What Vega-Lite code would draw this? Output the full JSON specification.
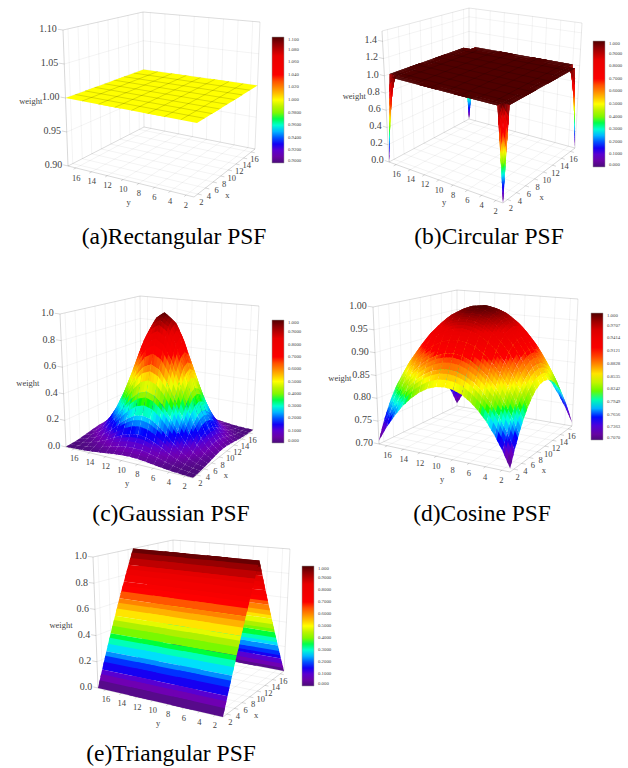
{"$schema":"https://vega.github.io/schema/vega-lite/v6.json","width":628,"height":768,"padding":0,"autosize":{"type":"none"},"background":"white","config":{"view":{"stroke":null}},
"params":[{"name":"cam","value":{"a":{"X":[194,255,68,144,200,260,63,143],"Y":[197,149,166,127,49,22,30,12],"z":[0.9,1.1],"sx":16,"sy":16,"cap":[174,237]},"b":{"X":[503,575,389,469,506,582,382,469],"Y":[203,148,162,119,58,23,31,8],"z":[0,1.52],"g":[1,1.1,1.25,1.5,2,16,16.5,16.75,16.9,17],"cap":[489,237]},"c":{"X":[193,253,66,141,199,259,60,140],"Y":[478,430,447,408,333,306,314,296],"z":[0,1],"sx":1,"sy":1,"cap":[171,514]},"d":{"X":[510,572,379,457,516,578,373,457],"Y":[472,426,444,406,327,299,307,290],"z":[0.7,1],"sx":1,"sy":1,"cap":[482,514]},"e":{"X":[223,284,98,174,229,290,93,173],"Y":[717,671,688,650,572,549,557,540],"z":[0,1],"sx":1,"sy":16,"cap":[171,754]}}}],
"data":{"values":[
{"k":"g","x":2,"y":1,"t":0,"x2":2,"y2":17,"t2":0},{"k":"g","x":4,"y":1,"t":0,"x2":4,"y2":17,"t2":0},{"k":"g","x":6,"y":1,"t":0,"x2":6,"y2":17,"t2":0},{"k":"g","x":8,"y":1,"t":0,"x2":8,"y2":17,"t2":0},{"k":"g","x":10,"y":1,"t":0,"x2":10,"y2":17,"t2":0},{"k":"g","x":12,"y":1,"t":0,"x2":12,"y2":17,"t2":0},{"k":"g","x":14,"y":1,"t":0,"x2":14,"y2":17,"t2":0},{"k":"g","x":16,"y":1,"t":0,"x2":16,"y2":17,"t2":0},
{"k":"g","x":1,"y":2,"t":0,"x2":17,"y2":2,"t2":0},{"k":"g","x":1,"y":4,"t":0,"x2":17,"y2":4,"t2":0},{"k":"g","x":1,"y":6,"t":0,"x2":17,"y2":6,"t2":0},{"k":"g","x":1,"y":8,"t":0,"x2":17,"y2":8,"t2":0},{"k":"g","x":1,"y":10,"t":0,"x2":17,"y2":10,"t2":0},{"k":"g","x":1,"y":12,"t":0,"x2":17,"y2":12,"t2":0},{"k":"g","x":1,"y":14,"t":0,"x2":17,"y2":14,"t2":0},{"k":"g","x":1,"y":16,"t":0,"x2":17,"y2":16,"t2":0},
{"k":"g","x":2,"y":17,"t":0,"x2":2,"y2":17,"t2":1},{"k":"g","x":4,"y":17,"t":0,"x2":4,"y2":17,"t2":1},{"k":"g","x":6,"y":17,"t":0,"x2":6,"y2":17,"t2":1},{"k":"g","x":8,"y":17,"t":0,"x2":8,"y2":17,"t2":1},{"k":"g","x":10,"y":17,"t":0,"x2":10,"y2":17,"t2":1},{"k":"g","x":12,"y":17,"t":0,"x2":12,"y2":17,"t2":1},{"k":"g","x":14,"y":17,"t":0,"x2":14,"y2":17,"t2":1},{"k":"g","x":16,"y":17,"t":0,"x2":16,"y2":17,"t2":1},
{"k":"g","x":17,"y":2,"t":0,"x2":17,"y2":2,"t2":1},{"k":"g","x":17,"y":4,"t":0,"x2":17,"y2":4,"t2":1},{"k":"g","x":17,"y":6,"t":0,"x2":17,"y2":6,"t2":1},{"k":"g","x":17,"y":8,"t":0,"x2":17,"y2":8,"t2":1},{"k":"g","x":17,"y":10,"t":0,"x2":17,"y2":10,"t2":1},{"k":"g","x":17,"y":12,"t":0,"x2":17,"y2":12,"t2":1},{"k":"g","x":17,"y":14,"t":0,"x2":17,"y2":14,"t2":1},{"k":"g","x":17,"y":16,"t":0,"x2":17,"y2":16,"t2":1},
{"k":"b","x":1,"y":17,"t":0,"x2":17,"y2":17,"t2":0},{"k":"b","x":17,"y":17,"t":0,"x2":17,"y2":1,"t2":0},{"k":"b","x":17,"y":17,"t":0,"x2":17,"y2":17,"t2":1},{"k":"b","x":17,"y":1,"t":0,"x2":17,"y2":1,"t2":1},{"k":"b","x":1,"y":17,"t":1,"x2":17,"y2":17,"t2":1},{"k":"b","x":17,"y":17,"t":1,"x2":17,"y2":1,"t2":1},
{"k":"a","x":1,"y":17,"t":0,"x2":1,"y2":1,"t2":0},{"k":"a","x":1,"y":1,"t":0,"x2":17,"y2":1,"t2":0},{"k":"a","x":1,"y":17,"t":0,"x2":1,"y2":17,"t2":1},
{"k":"a","x":1,"y":2,"t":0,"x2":0.5,"y2":2,"t2":0},{"k":"a","x":1,"y":4,"t":0,"x2":0.5,"y2":4,"t2":0},{"k":"a","x":1,"y":6,"t":0,"x2":0.5,"y2":6,"t2":0},{"k":"a","x":1,"y":8,"t":0,"x2":0.5,"y2":8,"t2":0},{"k":"a","x":1,"y":10,"t":0,"x2":0.5,"y2":10,"t2":0},{"k":"a","x":1,"y":12,"t":0,"x2":0.5,"y2":12,"t2":0},{"k":"a","x":1,"y":14,"t":0,"x2":0.5,"y2":14,"t2":0},{"k":"a","x":1,"y":16,"t":0,"x2":0.5,"y2":16,"t2":0},
{"k":"a","x":2,"y":1,"t":0,"x2":2,"y2":0.5,"t2":0},{"k":"a","x":4,"y":1,"t":0,"x2":4,"y2":0.5,"t2":0},{"k":"a","x":6,"y":1,"t":0,"x2":6,"y2":0.5,"t2":0},{"k":"a","x":8,"y":1,"t":0,"x2":8,"y2":0.5,"t2":0},{"k":"a","x":10,"y":1,"t":0,"x2":10,"y2":0.5,"t2":0},{"k":"a","x":12,"y":1,"t":0,"x2":12,"y2":0.5,"t2":0},{"k":"a","x":14,"y":1,"t":0,"x2":14,"y2":0.5,"t2":0},{"k":"a","x":16,"y":1,"t":0,"x2":16,"y2":0.5,"t2":0},
{"k":"m","x":3,"y":1,"x2":3,"y2":17,"w":1},{"k":"m","x":5,"y":1,"x2":5,"y2":17,"w":1},{"k":"m","x":7,"y":1,"x2":7,"y2":17,"w":1},{"k":"m","x":9,"y":1,"x2":9,"y2":17,"w":1},{"k":"m","x":11,"y":1,"x2":11,"y2":17,"w":1},{"k":"m","x":13,"y":1,"x2":13,"y2":17,"w":1},{"k":"m","x":15,"y":1,"x2":15,"y2":17,"w":1},{"k":"m","x":1,"y":3,"x2":17,"y2":3,"w":1},{"k":"m","x":1,"y":5,"x2":17,"y2":5,"w":1},{"k":"m","x":1,"y":7,"x2":17,"y2":7,"w":1},{"k":"m","x":1,"y":9,"x2":17,"y2":9,"w":1},{"k":"m","x":1,"y":11,"x2":17,"y2":11,"w":1},{"k":"m","x":1,"y":13,"x2":17,"y2":13,"w":1},{"k":"m","x":1,"y":15,"x2":17,"y2":15,"w":1},
{"k":"l","s":"2","x":2,"y":0.5,"t":-0.05},{"k":"l","s":"4","x":4,"y":0.5,"t":-0.05},{"k":"l","s":"6","x":6,"y":0.5,"t":-0.05},{"k":"l","s":"8","x":8,"y":0.5,"t":-0.05},{"k":"l","s":"10","x":10,"y":0.5,"t":-0.05},{"k":"l","s":"12","x":12,"y":0.5,"t":-0.05},{"k":"l","s":"14","x":14,"y":0.5,"t":-0.05},{"k":"l","s":"16","x":16,"y":0.5,"t":-0.05},
{"k":"l","s":"2","x":1,"y":2,"t":-0.07},{"k":"l","s":"4","x":1,"y":4,"t":-0.07},{"k":"l","s":"6","x":1,"y":6,"t":-0.07},{"k":"l","s":"8","x":1,"y":8,"t":-0.07},{"k":"l","s":"10","x":1,"y":10,"t":-0.07},{"k":"l","s":"12","x":1,"y":12,"t":-0.07},{"k":"l","s":"14","x":1,"y":14,"t":-0.07},{"k":"l","s":"16","x":1,"y":16,"t":-0.07},
{"k":"l","s":"x","x":9,"y":0.5,"t":-0.15},{"k":"l","s":"y","x":1,"y":9.3,"t":-0.15},{"k":"l","s":"weight","x":1,"y":21.3,"t":0.43},
{"p":"a","k":"cap","s":"(a)Rectangular PSF"},{"p":"b","k":"cap","s":"(b)Circular PSF"},{"p":"c","k":"cap","s":"(c)Gaussian PSF"},{"p":"d","k":"cap","s":"(d)Cosine PSF"},{"p":"e","k":"cap","s":"(e)Triangular PSF"},
{"p":"a","k":"z","w":0.9,"s":"0.90"},{"p":"a","k":"z","w":0.95,"s":"0.95"},{"p":"a","k":"z","w":1,"s":"1.00"},{"p":"a","k":"z","w":1.05,"s":"1.05"},{"p":"a","k":"z","w":1.1,"s":"1.10"},
{"p":"b","k":"z","w":0,"s":"0.0"},{"p":"b","k":"z","w":0.2,"s":"0.2"},{"p":"b","k":"z","w":0.4,"s":"0.4"},{"p":"b","k":"z","w":0.6,"s":"0.6"},{"p":"b","k":"z","w":0.8,"s":"0.8"},{"p":"b","k":"z","w":1,"s":"1.0"},{"p":"b","k":"z","w":1.2,"s":"1.2"},{"p":"b","k":"z","w":1.4,"s":"1.4"},
{"p":"c","k":"z","w":0,"s":"0.0"},{"p":"c","k":"z","w":0.2,"s":"0.2"},{"p":"c","k":"z","w":0.4,"s":"0.4"},{"p":"c","k":"z","w":0.6,"s":"0.6"},{"p":"c","k":"z","w":0.8,"s":"0.8"},{"p":"c","k":"z","w":1,"s":"1.0"},
{"p":"d","k":"z","w":0.7,"s":"0.70"},{"p":"d","k":"z","w":0.75,"s":"0.75"},{"p":"d","k":"z","w":0.8,"s":"0.80"},{"p":"d","k":"z","w":0.85,"s":"0.85"},{"p":"d","k":"z","w":0.9,"s":"0.90"},{"p":"d","k":"z","w":0.95,"s":"0.95"},{"p":"d","k":"z","w":1,"s":"1.00"},
{"p":"e","k":"z","w":0,"s":"0.0"},{"p":"e","k":"z","w":0.2,"s":"0.2"},{"p":"e","k":"z","w":0.4,"s":"0.4"},{"p":"e","k":"z","w":0.6,"s":"0.6"},{"p":"e","k":"z","w":0.8,"s":"0.8"},{"p":"e","k":"z","w":1,"s":"1.0"},
{"p":"a","x":17,"y":17,"w":1},{"p":"a","x":17,"y":1,"w":1},{"p":"a","x":1,"y":17,"w":1},{"p":"a","x":1,"y":1,"w":1},
{"p":"b","x":17,"y":17,"w":0},{"p":"b","x":17,"y":16.9,"w":0.1},{"p":"b","x":17,"y":16.75,"w":0.25},{"p":"b","x":17,"y":16.5,"w":0.5},{"p":"b","x":17,"y":16,"w":1},{"p":"b","x":17,"y":2,"w":1},{"p":"b","x":17,"y":1.5,"w":0.5},{"p":"b","x":17,"y":1.25,"w":0.25},{"p":"b","x":17,"y":1.1,"w":0.1},{"p":"b","x":17,"y":1,"w":0},
{"p":"b","x":16.9,"y":17,"w":0.1},{"p":"b","x":16.9,"y":16.9,"w":0.19},{"p":"b","x":16.9,"y":16.75,"w":0.325},{"p":"b","x":16.9,"y":16.5,"w":0.55},{"p":"b","x":16.9,"y":16,"w":1},{"p":"b","x":16.9,"y":2,"w":1},{"p":"b","x":16.9,"y":1.5,"w":0.55},{"p":"b","x":16.9,"y":1.25,"w":0.325},{"p":"b","x":16.9,"y":1.1,"w":0.19},{"p":"b","x":16.9,"y":1,"w":0.1},
{"p":"b","x":16.75,"y":17,"w":0.25},{"p":"b","x":16.75,"y":16.9,"w":0.325},{"p":"b","x":16.75,"y":16.75,"w":0.44},{"p":"b","x":16.75,"y":16.5,"w":0.625},{"p":"b","x":16.75,"y":16,"w":1},{"p":"b","x":16.75,"y":2,"w":1},{"p":"b","x":16.75,"y":1.5,"w":0.625},{"p":"b","x":16.75,"y":1.25,"w":0.44},{"p":"b","x":16.75,"y":1.1,"w":0.325},{"p":"b","x":16.75,"y":1,"w":0.25},
{"p":"b","x":16.5,"y":17,"w":0.5},{"p":"b","x":16.5,"y":16.9,"w":0.55},{"p":"b","x":16.5,"y":16.75,"w":0.625},{"p":"b","x":16.5,"y":16.5,"w":0.75},{"p":"b","x":16.5,"y":16,"w":1},{"p":"b","x":16.5,"y":2,"w":1},{"p":"b","x":16.5,"y":1.5,"w":0.75},{"p":"b","x":16.5,"y":1.25,"w":0.625},{"p":"b","x":16.5,"y":1.1,"w":0.55},{"p":"b","x":16.5,"y":1,"w":0.5},
{"p":"b","x":16,"y":17,"w":1},{"p":"b","x":16,"y":16.9,"w":1},{"p":"b","x":16,"y":16.75,"w":1},{"p":"b","x":16,"y":16.5,"w":1},{"p":"b","x":16,"y":16,"w":1},{"p":"b","x":16,"y":2,"w":1},{"p":"b","x":16,"y":1.5,"w":1},{"p":"b","x":16,"y":1.25,"w":1},{"p":"b","x":16,"y":1.1,"w":1},{"p":"b","x":16,"y":1,"w":1},
{"p":"b","x":2,"y":17,"w":1},{"p":"b","x":2,"y":16.9,"w":1},{"p":"b","x":2,"y":16.75,"w":1},{"p":"b","x":2,"y":16.5,"w":1},{"p":"b","x":2,"y":16,"w":1},{"p":"b","x":2,"y":2,"w":1},{"p":"b","x":2,"y":1.5,"w":1},{"p":"b","x":2,"y":1.25,"w":1},{"p":"b","x":2,"y":1.1,"w":1},{"p":"b","x":2,"y":1,"w":1},
{"p":"b","x":1.5,"y":17,"w":0.5},{"p":"b","x":1.5,"y":16.9,"w":0.55},{"p":"b","x":1.5,"y":16.75,"w":0.625},{"p":"b","x":1.5,"y":16.5,"w":0.75},{"p":"b","x":1.5,"y":16,"w":1},{"p":"b","x":1.5,"y":2,"w":1},{"p":"b","x":1.5,"y":1.5,"w":0.75},{"p":"b","x":1.5,"y":1.25,"w":0.625},{"p":"b","x":1.5,"y":1.1,"w":0.55},{"p":"b","x":1.5,"y":1,"w":0.5},
{"p":"b","x":1.25,"y":17,"w":0.25},{"p":"b","x":1.25,"y":16.9,"w":0.325},{"p":"b","x":1.25,"y":16.75,"w":0.44},{"p":"b","x":1.25,"y":16.5,"w":0.625},{"p":"b","x":1.25,"y":16,"w":1},{"p":"b","x":1.25,"y":2,"w":1},{"p":"b","x":1.25,"y":1.5,"w":0.625},{"p":"b","x":1.25,"y":1.25,"w":0.44},{"p":"b","x":1.25,"y":1.1,"w":0.325},{"p":"b","x":1.25,"y":1,"w":0.25},
{"p":"b","x":1.1,"y":17,"w":0.1},{"p":"b","x":1.1,"y":16.9,"w":0.19},{"p":"b","x":1.1,"y":16.75,"w":0.325},{"p":"b","x":1.1,"y":16.5,"w":0.55},{"p":"b","x":1.1,"y":16,"w":1},{"p":"b","x":1.1,"y":2,"w":1},{"p":"b","x":1.1,"y":1.5,"w":0.55},{"p":"b","x":1.1,"y":1.25,"w":0.325},{"p":"b","x":1.1,"y":1.1,"w":0.19},{"p":"b","x":1.1,"y":1,"w":0.1},
{"p":"b","x":1,"y":17,"w":0},{"p":"b","x":1,"y":16.9,"w":0.1},{"p":"b","x":1,"y":16.75,"w":0.25},{"p":"b","x":1,"y":16.5,"w":0.5},{"p":"b","x":1,"y":16,"w":1},{"p":"b","x":1,"y":2,"w":1},{"p":"b","x":1,"y":1.5,"w":0.5},{"p":"b","x":1,"y":1.25,"w":0.25},{"p":"b","x":1,"y":1.1,"w":0.1},{"p":"b","x":1,"y":1,"w":0},
{"p":"c","x":17,"y":17,"w":0.002},{"p":"c","x":17,"y":16,"w":0.004},{"p":"c","x":17,"y":15,"w":0.007},{"p":"c","x":17,"y":14,"w":0.012},{"p":"c","x":17,"y":13,"w":0.018},{"p":"c","x":17,"y":12,"w":0.026},{"p":"c","x":17,"y":11,"w":0.033},{"p":"c","x":17,"y":10,"w":0.039},{"p":"c","x":17,"y":9,"w":0.041},{"p":"c","x":17,"y":8,"w":0.039},{"p":"c","x":17,"y":7,"w":0.033},{"p":"c","x":17,"y":6,"w":0.026},{"p":"c","x":17,"y":5,"w":0.018},{"p":"c","x":17,"y":4,"w":0.012},{"p":"c","x":17,"y":3,"w":0.007},{"p":"c","x":17,"y":2,"w":0.004},{"p":"c","x":17,"y":1,"w":0.002},
{"p":"c","x":16,"y":17,"w":0.004},{"p":"c","x":16,"y":16,"w":0.007},{"p":"c","x":16,"y":15,"w":0.014},{"p":"c","x":16,"y":14,"w":0.025},{"p":"c","x":16,"y":13,"w":0.039},{"p":"c","x":16,"y":12,"w":0.055},{"p":"c","x":16,"y":11,"w":0.071},{"p":"c","x":16,"y":10,"w":0.082},{"p":"c","x":16,"y":9,"w":0.086},{"p":"c","x":16,"y":8,"w":0.082},{"p":"c","x":16,"y":7,"w":0.071},{"p":"c","x":16,"y":6,"w":0.055},{"p":"c","x":16,"y":5,"w":0.039},{"p":"c","x":16,"y":4,"w":0.025},{"p":"c","x":16,"y":3,"w":0.014},{"p":"c","x":16,"y":2,"w":0.007},{"p":"c","x":16,"y":1,"w":0.004},
{"p":"c","x":15,"y":17,"w":0.007},{"p":"c","x":15,"y":16,"w":0.014},{"p":"c","x":15,"y":15,"w":0.027},{"p":"c","x":15,"y":14,"w":0.047},{"p":"c","x":15,"y":13,"w":0.074},{"p":"c","x":15,"y":12,"w":0.105},{"p":"c","x":15,"y":11,"w":0.135},{"p":"c","x":15,"y":10,"w":0.157},{"p":"c","x":15,"y":9,"w":0.165},{"p":"c","x":15,"y":8,"w":0.157},{"p":"c","x":15,"y":7,"w":0.135},{"p":"c","x":15,"y":6,"w":0.105},{"p":"c","x":15,"y":5,"w":0.074},{"p":"c","x":15,"y":4,"w":0.047},{"p":"c","x":15,"y":3,"w":0.027},{"p":"c","x":15,"y":2,"w":0.014},{"p":"c","x":15,"y":1,"w":0.007},
{"p":"c","x":14,"y":17,"w":0.012},{"p":"c","x":14,"y":16,"w":0.025},{"p":"c","x":14,"y":15,"w":0.047},{"p":"c","x":14,"y":14,"w":0.082},{"p":"c","x":14,"y":13,"w":0.129},{"p":"c","x":14,"y":12,"w":0.183},{"p":"c","x":14,"y":11,"w":0.235},{"p":"c","x":14,"y":10,"w":0.273},{"p":"c","x":14,"y":9,"w":0.287},{"p":"c","x":14,"y":8,"w":0.273},{"p":"c","x":14,"y":7,"w":0.235},{"p":"c","x":14,"y":6,"w":0.183},{"p":"c","x":14,"y":5,"w":0.129},{"p":"c","x":14,"y":4,"w":0.082},{"p":"c","x":14,"y":3,"w":0.047},{"p":"c","x":14,"y":2,"w":0.025},{"p":"c","x":14,"y":1,"w":0.012},
{"p":"c","x":13,"y":17,"w":0.018},{"p":"c","x":13,"y":16,"w":0.039},{"p":"c","x":13,"y":15,"w":0.074},{"p":"c","x":13,"y":14,"w":0.129},{"p":"c","x":13,"y":13,"w":0.202},{"p":"c","x":13,"y":12,"w":0.287},{"p":"c","x":13,"y":11,"w":0.368},{"p":"c","x":13,"y":10,"w":0.427},{"p":"c","x":13,"y":9,"w":0.449},{"p":"c","x":13,"y":8,"w":0.427},{"p":"c","x":13,"y":7,"w":0.368},{"p":"c","x":13,"y":6,"w":0.287},{"p":"c","x":13,"y":5,"w":0.202},{"p":"c","x":13,"y":4,"w":0.129},{"p":"c","x":13,"y":3,"w":0.074},{"p":"c","x":13,"y":2,"w":0.039},{"p":"c","x":13,"y":1,"w":0.018},
{"p":"c","x":12,"y":17,"w":0.026},{"p":"c","x":12,"y":16,"w":0.055},{"p":"c","x":12,"y":15,"w":0.105},{"p":"c","x":12,"y":14,"w":0.183},{"p":"c","x":12,"y":13,"w":0.287},{"p":"c","x":12,"y":12,"w":0.407},{"p":"c","x":12,"y":11,"w":0.522},{"p":"c","x":12,"y":10,"w":0.607},{"p":"c","x":12,"y":9,"w":0.638},{"p":"c","x":12,"y":8,"w":0.607},{"p":"c","x":12,"y":7,"w":0.522},{"p":"c","x":12,"y":6,"w":0.407},{"p":"c","x":12,"y":5,"w":0.287},{"p":"c","x":12,"y":4,"w":0.183},{"p":"c","x":12,"y":3,"w":0.105},{"p":"c","x":12,"y":2,"w":0.055},{"p":"c","x":12,"y":1,"w":0.026},
{"p":"c","x":11,"y":17,"w":0.033},{"p":"c","x":11,"y":16,"w":0.071},{"p":"c","x":11,"y":15,"w":0.135},{"p":"c","x":11,"y":14,"w":0.235},{"p":"c","x":11,"y":13,"w":0.368},{"p":"c","x":11,"y":12,"w":0.522},{"p":"c","x":11,"y":11,"w":0.67},{"p":"c","x":11,"y":10,"w":0.779},{"p":"c","x":11,"y":9,"w":0.819},{"p":"c","x":11,"y":8,"w":0.779},{"p":"c","x":11,"y":7,"w":0.67},{"p":"c","x":11,"y":6,"w":0.522},{"p":"c","x":11,"y":5,"w":0.368},{"p":"c","x":11,"y":4,"w":0.235},{"p":"c","x":11,"y":3,"w":0.135},{"p":"c","x":11,"y":2,"w":0.071},{"p":"c","x":11,"y":1,"w":0.033},
{"p":"c","x":10,"y":17,"w":0.039},{"p":"c","x":10,"y":16,"w":0.082},{"p":"c","x":10,"y":15,"w":0.157},{"p":"c","x":10,"y":14,"w":0.273},{"p":"c","x":10,"y":13,"w":0.427},{"p":"c","x":10,"y":12,"w":0.607},{"p":"c","x":10,"y":11,"w":0.779},{"p":"c","x":10,"y":10,"w":0.905},{"p":"c","x":10,"y":9,"w":0.951},{"p":"c","x":10,"y":8,"w":0.905},{"p":"c","x":10,"y":7,"w":0.779},{"p":"c","x":10,"y":6,"w":0.607},{"p":"c","x":10,"y":5,"w":0.427},{"p":"c","x":10,"y":4,"w":0.273},{"p":"c","x":10,"y":3,"w":0.157},{"p":"c","x":10,"y":2,"w":0.082},{"p":"c","x":10,"y":1,"w":0.039},
{"p":"c","x":9,"y":17,"w":0.041},{"p":"c","x":9,"y":16,"w":0.086},{"p":"c","x":9,"y":15,"w":0.165},{"p":"c","x":9,"y":14,"w":0.287},{"p":"c","x":9,"y":13,"w":0.449},{"p":"c","x":9,"y":12,"w":0.638},{"p":"c","x":9,"y":11,"w":0.819},{"p":"c","x":9,"y":10,"w":0.951},{"p":"c","x":9,"y":9,"w":1},{"p":"c","x":9,"y":8,"w":0.951},{"p":"c","x":9,"y":7,"w":0.819},{"p":"c","x":9,"y":6,"w":0.638},{"p":"c","x":9,"y":5,"w":0.449},{"p":"c","x":9,"y":4,"w":0.287},{"p":"c","x":9,"y":3,"w":0.165},{"p":"c","x":9,"y":2,"w":0.086},{"p":"c","x":9,"y":1,"w":0.041},
{"p":"c","x":8,"y":17,"w":0.039},{"p":"c","x":8,"y":16,"w":0.082},{"p":"c","x":8,"y":15,"w":0.157},{"p":"c","x":8,"y":14,"w":0.273},{"p":"c","x":8,"y":13,"w":0.427},{"p":"c","x":8,"y":12,"w":0.607},{"p":"c","x":8,"y":11,"w":0.779},{"p":"c","x":8,"y":10,"w":0.905},{"p":"c","x":8,"y":9,"w":0.951},{"p":"c","x":8,"y":8,"w":0.905},{"p":"c","x":8,"y":7,"w":0.779},{"p":"c","x":8,"y":6,"w":0.607},{"p":"c","x":8,"y":5,"w":0.427},{"p":"c","x":8,"y":4,"w":0.273},{"p":"c","x":8,"y":3,"w":0.157},{"p":"c","x":8,"y":2,"w":0.082},{"p":"c","x":8,"y":1,"w":0.039},
{"p":"c","x":7,"y":17,"w":0.033},{"p":"c","x":7,"y":16,"w":0.071},{"p":"c","x":7,"y":15,"w":0.135},{"p":"c","x":7,"y":14,"w":0.235},{"p":"c","x":7,"y":13,"w":0.368},{"p":"c","x":7,"y":12,"w":0.522},{"p":"c","x":7,"y":11,"w":0.67},{"p":"c","x":7,"y":10,"w":0.779},{"p":"c","x":7,"y":9,"w":0.819},{"p":"c","x":7,"y":8,"w":0.779},{"p":"c","x":7,"y":7,"w":0.67},{"p":"c","x":7,"y":6,"w":0.522},{"p":"c","x":7,"y":5,"w":0.368},{"p":"c","x":7,"y":4,"w":0.235},{"p":"c","x":7,"y":3,"w":0.135},{"p":"c","x":7,"y":2,"w":0.071},{"p":"c","x":7,"y":1,"w":0.033},
{"p":"c","x":6,"y":17,"w":0.026},{"p":"c","x":6,"y":16,"w":0.055},{"p":"c","x":6,"y":15,"w":0.105},{"p":"c","x":6,"y":14,"w":0.183},{"p":"c","x":6,"y":13,"w":0.287},{"p":"c","x":6,"y":12,"w":0.407},{"p":"c","x":6,"y":11,"w":0.522},{"p":"c","x":6,"y":10,"w":0.607},{"p":"c","x":6,"y":9,"w":0.638},{"p":"c","x":6,"y":8,"w":0.607},{"p":"c","x":6,"y":7,"w":0.522},{"p":"c","x":6,"y":6,"w":0.407},{"p":"c","x":6,"y":5,"w":0.287},{"p":"c","x":6,"y":4,"w":0.183},{"p":"c","x":6,"y":3,"w":0.105},{"p":"c","x":6,"y":2,"w":0.055},{"p":"c","x":6,"y":1,"w":0.026},
{"p":"c","x":5,"y":17,"w":0.018},{"p":"c","x":5,"y":16,"w":0.039},{"p":"c","x":5,"y":15,"w":0.074},{"p":"c","x":5,"y":14,"w":0.129},{"p":"c","x":5,"y":13,"w":0.202},{"p":"c","x":5,"y":12,"w":0.287},{"p":"c","x":5,"y":11,"w":0.368},{"p":"c","x":5,"y":10,"w":0.427},{"p":"c","x":5,"y":9,"w":0.449},{"p":"c","x":5,"y":8,"w":0.427},{"p":"c","x":5,"y":7,"w":0.368},{"p":"c","x":5,"y":6,"w":0.287},{"p":"c","x":5,"y":5,"w":0.202},{"p":"c","x":5,"y":4,"w":0.129},{"p":"c","x":5,"y":3,"w":0.074},{"p":"c","x":5,"y":2,"w":0.039},{"p":"c","x":5,"y":1,"w":0.018},
{"p":"c","x":4,"y":17,"w":0.012},{"p":"c","x":4,"y":16,"w":0.025},{"p":"c","x":4,"y":15,"w":0.047},{"p":"c","x":4,"y":14,"w":0.082},{"p":"c","x":4,"y":13,"w":0.129},{"p":"c","x":4,"y":12,"w":0.183},{"p":"c","x":4,"y":11,"w":0.235},{"p":"c","x":4,"y":10,"w":0.273},{"p":"c","x":4,"y":9,"w":0.287},{"p":"c","x":4,"y":8,"w":0.273},{"p":"c","x":4,"y":7,"w":0.235},{"p":"c","x":4,"y":6,"w":0.183},{"p":"c","x":4,"y":5,"w":0.129},{"p":"c","x":4,"y":4,"w":0.082},{"p":"c","x":4,"y":3,"w":0.047},{"p":"c","x":4,"y":2,"w":0.025},{"p":"c","x":4,"y":1,"w":0.012},
{"p":"c","x":3,"y":17,"w":0.007},{"p":"c","x":3,"y":16,"w":0.014},{"p":"c","x":3,"y":15,"w":0.027},{"p":"c","x":3,"y":14,"w":0.047},{"p":"c","x":3,"y":13,"w":0.074},{"p":"c","x":3,"y":12,"w":0.105},{"p":"c","x":3,"y":11,"w":0.135},{"p":"c","x":3,"y":10,"w":0.157},{"p":"c","x":3,"y":9,"w":0.165},{"p":"c","x":3,"y":8,"w":0.157},{"p":"c","x":3,"y":7,"w":0.135},{"p":"c","x":3,"y":6,"w":0.105},{"p":"c","x":3,"y":5,"w":0.074},{"p":"c","x":3,"y":4,"w":0.047},{"p":"c","x":3,"y":3,"w":0.027},{"p":"c","x":3,"y":2,"w":0.014},{"p":"c","x":3,"y":1,"w":0.007},
{"p":"c","x":2,"y":17,"w":0.004},{"p":"c","x":2,"y":16,"w":0.007},{"p":"c","x":2,"y":15,"w":0.014},{"p":"c","x":2,"y":14,"w":0.025},{"p":"c","x":2,"y":13,"w":0.039},{"p":"c","x":2,"y":12,"w":0.055},{"p":"c","x":2,"y":11,"w":0.071},{"p":"c","x":2,"y":10,"w":0.082},{"p":"c","x":2,"y":9,"w":0.086},{"p":"c","x":2,"y":8,"w":0.082},{"p":"c","x":2,"y":7,"w":0.071},{"p":"c","x":2,"y":6,"w":0.055},{"p":"c","x":2,"y":5,"w":0.039},{"p":"c","x":2,"y":4,"w":0.025},{"p":"c","x":2,"y":3,"w":0.014},{"p":"c","x":2,"y":2,"w":0.007},{"p":"c","x":2,"y":1,"w":0.004},
{"p":"c","x":1,"y":17,"w":0.002},{"p":"c","x":1,"y":16,"w":0.004},{"p":"c","x":1,"y":15,"w":0.007},{"p":"c","x":1,"y":14,"w":0.012},{"p":"c","x":1,"y":13,"w":0.018},{"p":"c","x":1,"y":12,"w":0.026},{"p":"c","x":1,"y":11,"w":0.033},{"p":"c","x":1,"y":10,"w":0.039},{"p":"c","x":1,"y":9,"w":0.041},{"p":"c","x":1,"y":8,"w":0.039},{"p":"c","x":1,"y":7,"w":0.033},{"p":"c","x":1,"y":6,"w":0.026},{"p":"c","x":1,"y":5,"w":0.018},{"p":"c","x":1,"y":4,"w":0.012},{"p":"c","x":1,"y":3,"w":0.007},{"p":"c","x":1,"y":2,"w":0.004},{"p":"c","x":1,"y":1,"w":0.002},
{"p":"d","x":17,"y":17,"w":0.707},{"p":"d","x":17,"y":16,"w":0.74},{"p":"d","x":17,"y":15,"w":0.768},{"p":"d","x":17,"y":14,"w":0.793},{"p":"d","x":17,"y":13,"w":0.813},{"p":"d","x":17,"y":12,"w":0.829},{"p":"d","x":17,"y":11,"w":0.841},{"p":"d","x":17,"y":10,"w":0.848},{"p":"d","x":17,"y":9,"w":0.85},{"p":"d","x":17,"y":8,"w":0.848},{"p":"d","x":17,"y":7,"w":0.841},{"p":"d","x":17,"y":6,"w":0.829},{"p":"d","x":17,"y":5,"w":0.813},{"p":"d","x":17,"y":4,"w":0.793},{"p":"d","x":17,"y":3,"w":0.768},{"p":"d","x":17,"y":2,"w":0.74},{"p":"d","x":17,"y":1,"w":0.707},
{"p":"d","x":16,"y":17,"w":0.74},{"p":"d","x":16,"y":16,"w":0.773},{"p":"d","x":16,"y":15,"w":0.802},{"p":"d","x":16,"y":14,"w":0.827},{"p":"d","x":16,"y":13,"w":0.848},{"p":"d","x":16,"y":12,"w":0.864},{"p":"d","x":16,"y":11,"w":0.875},{"p":"d","x":16,"y":10,"w":0.882},{"p":"d","x":16,"y":9,"w":0.884},{"p":"d","x":16,"y":8,"w":0.882},{"p":"d","x":16,"y":7,"w":0.875},{"p":"d","x":16,"y":6,"w":0.864},{"p":"d","x":16,"y":5,"w":0.848},{"p":"d","x":16,"y":4,"w":0.827},{"p":"d","x":16,"y":3,"w":0.802},{"p":"d","x":16,"y":2,"w":0.773},{"p":"d","x":16,"y":1,"w":0.74},
{"p":"d","x":15,"y":17,"w":0.768},{"p":"d","x":15,"y":16,"w":0.802},{"p":"d","x":15,"y":15,"w":0.831},{"p":"d","x":15,"y":14,"w":0.857},{"p":"d","x":15,"y":13,"w":0.877},{"p":"d","x":15,"y":12,"w":0.893},{"p":"d","x":15,"y":11,"w":0.905},{"p":"d","x":15,"y":10,"w":0.912},{"p":"d","x":15,"y":9,"w":0.915},{"p":"d","x":15,"y":8,"w":0.912},{"p":"d","x":15,"y":7,"w":0.905},{"p":"d","x":15,"y":6,"w":0.893},{"p":"d","x":15,"y":5,"w":0.877},{"p":"d","x":15,"y":4,"w":0.857},{"p":"d","x":15,"y":3,"w":0.831},{"p":"d","x":15,"y":2,"w":0.802},{"p":"d","x":15,"y":1,"w":0.768},
{"p":"d","x":14,"y":17,"w":0.793},{"p":"d","x":14,"y":16,"w":0.827},{"p":"d","x":14,"y":15,"w":0.857},{"p":"d","x":14,"y":14,"w":0.882},{"p":"d","x":14,"y":13,"w":0.903},{"p":"d","x":14,"y":12,"w":0.919},{"p":"d","x":14,"y":11,"w":0.931},{"p":"d","x":14,"y":10,"w":0.938},{"p":"d","x":14,"y":9,"w":0.94},{"p":"d","x":14,"y":8,"w":0.938},{"p":"d","x":14,"y":7,"w":0.931},{"p":"d","x":14,"y":6,"w":0.919},{"p":"d","x":14,"y":5,"w":0.903},{"p":"d","x":14,"y":4,"w":0.882},{"p":"d","x":14,"y":3,"w":0.857},{"p":"d","x":14,"y":2,"w":0.827},{"p":"d","x":14,"y":1,"w":0.793},
{"p":"d","x":13,"y":17,"w":0.813},{"p":"d","x":13,"y":16,"w":0.848},{"p":"d","x":13,"y":15,"w":0.877},{"p":"d","x":13,"y":14,"w":0.903},{"p":"d","x":13,"y":13,"w":0.924},{"p":"d","x":13,"y":12,"w":0.94},{"p":"d","x":13,"y":11,"w":0.952},{"p":"d","x":13,"y":10,"w":0.959},{"p":"d","x":13,"y":9,"w":0.962},{"p":"d","x":13,"y":8,"w":0.959},{"p":"d","x":13,"y":7,"w":0.952},{"p":"d","x":13,"y":6,"w":0.94},{"p":"d","x":13,"y":5,"w":0.924},{"p":"d","x":13,"y":4,"w":0.903},{"p":"d","x":13,"y":3,"w":0.877},{"p":"d","x":13,"y":2,"w":0.848},{"p":"d","x":13,"y":1,"w":0.813},
{"p":"d","x":12,"y":17,"w":0.829},{"p":"d","x":12,"y":16,"w":0.864},{"p":"d","x":12,"y":15,"w":0.893},{"p":"d","x":12,"y":14,"w":0.919},{"p":"d","x":12,"y":13,"w":0.94},{"p":"d","x":12,"y":12,"w":0.957},{"p":"d","x":12,"y":11,"w":0.969},{"p":"d","x":12,"y":10,"w":0.976},{"p":"d","x":12,"y":9,"w":0.978},{"p":"d","x":12,"y":8,"w":0.976},{"p":"d","x":12,"y":7,"w":0.969},{"p":"d","x":12,"y":6,"w":0.957},{"p":"d","x":12,"y":5,"w":0.94},{"p":"d","x":12,"y":4,"w":0.919},{"p":"d","x":12,"y":3,"w":0.893},{"p":"d","x":12,"y":2,"w":0.864},{"p":"d","x":12,"y":1,"w":0.829},
{"p":"d","x":11,"y":17,"w":0.841},{"p":"d","x":11,"y":16,"w":0.875},{"p":"d","x":11,"y":15,"w":0.905},{"p":"d","x":11,"y":14,"w":0.931},{"p":"d","x":11,"y":13,"w":0.952},{"p":"d","x":11,"y":12,"w":0.969},{"p":"d","x":11,"y":11,"w":0.981},{"p":"d","x":11,"y":10,"w":0.988},{"p":"d","x":11,"y":9,"w":0.99},{"p":"d","x":11,"y":8,"w":0.988},{"p":"d","x":11,"y":7,"w":0.981},{"p":"d","x":11,"y":6,"w":0.969},{"p":"d","x":11,"y":5,"w":0.952},{"p":"d","x":11,"y":4,"w":0.931},{"p":"d","x":11,"y":3,"w":0.905},{"p":"d","x":11,"y":2,"w":0.875},{"p":"d","x":11,"y":1,"w":0.841},
{"p":"d","x":10,"y":17,"w":0.848},{"p":"d","x":10,"y":16,"w":0.882},{"p":"d","x":10,"y":15,"w":0.912},{"p":"d","x":10,"y":14,"w":0.938},{"p":"d","x":10,"y":13,"w":0.959},{"p":"d","x":10,"y":12,"w":0.976},{"p":"d","x":10,"y":11,"w":0.988},{"p":"d","x":10,"y":10,"w":0.995},{"p":"d","x":10,"y":9,"w":0.998},{"p":"d","x":10,"y":8,"w":0.995},{"p":"d","x":10,"y":7,"w":0.988},{"p":"d","x":10,"y":6,"w":0.976},{"p":"d","x":10,"y":5,"w":0.959},{"p":"d","x":10,"y":4,"w":0.938},{"p":"d","x":10,"y":3,"w":0.912},{"p":"d","x":10,"y":2,"w":0.882},{"p":"d","x":10,"y":1,"w":0.848},
{"p":"d","x":9,"y":17,"w":0.85},{"p":"d","x":9,"y":16,"w":0.884},{"p":"d","x":9,"y":15,"w":0.915},{"p":"d","x":9,"y":14,"w":0.94},{"p":"d","x":9,"y":13,"w":0.962},{"p":"d","x":9,"y":12,"w":0.978},{"p":"d","x":9,"y":11,"w":0.99},{"p":"d","x":9,"y":10,"w":0.998},{"p":"d","x":9,"y":9,"w":1},{"p":"d","x":9,"y":8,"w":0.998},{"p":"d","x":9,"y":7,"w":0.99},{"p":"d","x":9,"y":6,"w":0.978},{"p":"d","x":9,"y":5,"w":0.962},{"p":"d","x":9,"y":4,"w":0.94},{"p":"d","x":9,"y":3,"w":0.915},{"p":"d","x":9,"y":2,"w":0.884},{"p":"d","x":9,"y":1,"w":0.85},
{"p":"d","x":8,"y":17,"w":0.848},{"p":"d","x":8,"y":16,"w":0.882},{"p":"d","x":8,"y":15,"w":0.912},{"p":"d","x":8,"y":14,"w":0.938},{"p":"d","x":8,"y":13,"w":0.959},{"p":"d","x":8,"y":12,"w":0.976},{"p":"d","x":8,"y":11,"w":0.988},{"p":"d","x":8,"y":10,"w":0.995},{"p":"d","x":8,"y":9,"w":0.998},{"p":"d","x":8,"y":8,"w":0.995},{"p":"d","x":8,"y":7,"w":0.988},{"p":"d","x":8,"y":6,"w":0.976},{"p":"d","x":8,"y":5,"w":0.959},{"p":"d","x":8,"y":4,"w":0.938},{"p":"d","x":8,"y":3,"w":0.912},{"p":"d","x":8,"y":2,"w":0.882},{"p":"d","x":8,"y":1,"w":0.848},
{"p":"d","x":7,"y":17,"w":0.841},{"p":"d","x":7,"y":16,"w":0.875},{"p":"d","x":7,"y":15,"w":0.905},{"p":"d","x":7,"y":14,"w":0.931},{"p":"d","x":7,"y":13,"w":0.952},{"p":"d","x":7,"y":12,"w":0.969},{"p":"d","x":7,"y":11,"w":0.981},{"p":"d","x":7,"y":10,"w":0.988},{"p":"d","x":7,"y":9,"w":0.99},{"p":"d","x":7,"y":8,"w":0.988},{"p":"d","x":7,"y":7,"w":0.981},{"p":"d","x":7,"y":6,"w":0.969},{"p":"d","x":7,"y":5,"w":0.952},{"p":"d","x":7,"y":4,"w":0.931},{"p":"d","x":7,"y":3,"w":0.905},{"p":"d","x":7,"y":2,"w":0.875},{"p":"d","x":7,"y":1,"w":0.841},
{"p":"d","x":6,"y":17,"w":0.829},{"p":"d","x":6,"y":16,"w":0.864},{"p":"d","x":6,"y":15,"w":0.893},{"p":"d","x":6,"y":14,"w":0.919},{"p":"d","x":6,"y":13,"w":0.94},{"p":"d","x":6,"y":12,"w":0.957},{"p":"d","x":6,"y":11,"w":0.969},{"p":"d","x":6,"y":10,"w":0.976},{"p":"d","x":6,"y":9,"w":0.978},{"p":"d","x":6,"y":8,"w":0.976},{"p":"d","x":6,"y":7,"w":0.969},{"p":"d","x":6,"y":6,"w":0.957},{"p":"d","x":6,"y":5,"w":0.94},{"p":"d","x":6,"y":4,"w":0.919},{"p":"d","x":6,"y":3,"w":0.893},{"p":"d","x":6,"y":2,"w":0.864},{"p":"d","x":6,"y":1,"w":0.829},
{"p":"d","x":5,"y":17,"w":0.813},{"p":"d","x":5,"y":16,"w":0.848},{"p":"d","x":5,"y":15,"w":0.877},{"p":"d","x":5,"y":14,"w":0.903},{"p":"d","x":5,"y":13,"w":0.924},{"p":"d","x":5,"y":12,"w":0.94},{"p":"d","x":5,"y":11,"w":0.952},{"p":"d","x":5,"y":10,"w":0.959},{"p":"d","x":5,"y":9,"w":0.962},{"p":"d","x":5,"y":8,"w":0.959},{"p":"d","x":5,"y":7,"w":0.952},{"p":"d","x":5,"y":6,"w":0.94},{"p":"d","x":5,"y":5,"w":0.924},{"p":"d","x":5,"y":4,"w":0.903},{"p":"d","x":5,"y":3,"w":0.877},{"p":"d","x":5,"y":2,"w":0.848},{"p":"d","x":5,"y":1,"w":0.813},
{"p":"d","x":4,"y":17,"w":0.793},{"p":"d","x":4,"y":16,"w":0.827},{"p":"d","x":4,"y":15,"w":0.857},{"p":"d","x":4,"y":14,"w":0.882},{"p":"d","x":4,"y":13,"w":0.903},{"p":"d","x":4,"y":12,"w":0.919},{"p":"d","x":4,"y":11,"w":0.931},{"p":"d","x":4,"y":10,"w":0.938},{"p":"d","x":4,"y":9,"w":0.94},{"p":"d","x":4,"y":8,"w":0.938},{"p":"d","x":4,"y":7,"w":0.931},{"p":"d","x":4,"y":6,"w":0.919},{"p":"d","x":4,"y":5,"w":0.903},{"p":"d","x":4,"y":4,"w":0.882},{"p":"d","x":4,"y":3,"w":0.857},{"p":"d","x":4,"y":2,"w":0.827},{"p":"d","x":4,"y":1,"w":0.793},
{"p":"d","x":3,"y":17,"w":0.768},{"p":"d","x":3,"y":16,"w":0.802},{"p":"d","x":3,"y":15,"w":0.831},{"p":"d","x":3,"y":14,"w":0.857},{"p":"d","x":3,"y":13,"w":0.877},{"p":"d","x":3,"y":12,"w":0.893},{"p":"d","x":3,"y":11,"w":0.905},{"p":"d","x":3,"y":10,"w":0.912},{"p":"d","x":3,"y":9,"w":0.915},{"p":"d","x":3,"y":8,"w":0.912},{"p":"d","x":3,"y":7,"w":0.905},{"p":"d","x":3,"y":6,"w":0.893},{"p":"d","x":3,"y":5,"w":0.877},{"p":"d","x":3,"y":4,"w":0.857},{"p":"d","x":3,"y":3,"w":0.831},{"p":"d","x":3,"y":2,"w":0.802},{"p":"d","x":3,"y":1,"w":0.768},
{"p":"d","x":2,"y":17,"w":0.74},{"p":"d","x":2,"y":16,"w":0.773},{"p":"d","x":2,"y":15,"w":0.802},{"p":"d","x":2,"y":14,"w":0.827},{"p":"d","x":2,"y":13,"w":0.848},{"p":"d","x":2,"y":12,"w":0.864},{"p":"d","x":2,"y":11,"w":0.875},{"p":"d","x":2,"y":10,"w":0.882},{"p":"d","x":2,"y":9,"w":0.884},{"p":"d","x":2,"y":8,"w":0.882},{"p":"d","x":2,"y":7,"w":0.875},{"p":"d","x":2,"y":6,"w":0.864},{"p":"d","x":2,"y":5,"w":0.848},{"p":"d","x":2,"y":4,"w":0.827},{"p":"d","x":2,"y":3,"w":0.802},{"p":"d","x":2,"y":2,"w":0.773},{"p":"d","x":2,"y":1,"w":0.74},
{"p":"d","x":1,"y":17,"w":0.707},{"p":"d","x":1,"y":16,"w":0.74},{"p":"d","x":1,"y":15,"w":0.768},{"p":"d","x":1,"y":14,"w":0.793},{"p":"d","x":1,"y":13,"w":0.813},{"p":"d","x":1,"y":12,"w":0.829},{"p":"d","x":1,"y":11,"w":0.841},{"p":"d","x":1,"y":10,"w":0.848},{"p":"d","x":1,"y":9,"w":0.85},{"p":"d","x":1,"y":8,"w":0.848},{"p":"d","x":1,"y":7,"w":0.841},{"p":"d","x":1,"y":6,"w":0.829},{"p":"d","x":1,"y":5,"w":0.813},{"p":"d","x":1,"y":4,"w":0.793},{"p":"d","x":1,"y":3,"w":0.768},{"p":"d","x":1,"y":2,"w":0.74},{"p":"d","x":1,"y":1,"w":0.707},
{"p":"e","x":17,"y":17,"w":0},{"p":"e","x":17,"y":1,"w":0},{"p":"e","x":16,"y":17,"w":0.125},{"p":"e","x":16,"y":1,"w":0.125},{"p":"e","x":15,"y":17,"w":0.25},{"p":"e","x":15,"y":1,"w":0.25},{"p":"e","x":14,"y":17,"w":0.375},{"p":"e","x":14,"y":1,"w":0.375},{"p":"e","x":13,"y":17,"w":0.5},{"p":"e","x":13,"y":1,"w":0.5},{"p":"e","x":12,"y":17,"w":0.625},{"p":"e","x":12,"y":1,"w":0.625},{"p":"e","x":11,"y":17,"w":0.75},{"p":"e","x":11,"y":1,"w":0.75},{"p":"e","x":10,"y":17,"w":0.875},{"p":"e","x":10,"y":1,"w":0.875},{"p":"e","x":9,"y":17,"w":1},{"p":"e","x":9,"y":1,"w":1},{"p":"e","x":8,"y":17,"w":0.875},{"p":"e","x":8,"y":1,"w":0.875},{"p":"e","x":7,"y":17,"w":0.75},{"p":"e","x":7,"y":1,"w":0.75},{"p":"e","x":6,"y":17,"w":0.625},{"p":"e","x":6,"y":1,"w":0.625},{"p":"e","x":5,"y":17,"w":0.5},{"p":"e","x":5,"y":1,"w":0.5},{"p":"e","x":4,"y":17,"w":0.375},{"p":"e","x":4,"y":1,"w":0.375},{"p":"e","x":3,"y":17,"w":0.25},{"p":"e","x":3,"y":1,"w":0.25},{"p":"e","x":2,"y":17,"w":0.125},{"p":"e","x":2,"y":1,"w":0.125},{"p":"e","x":1,"y":17,"w":0},{"p":"e","x":1,"y":1,"w":0}
]},
"transform":[
{"calculate":"datum.p?[datum.p]:(datum.k=='m'?['a','b']:['a','b','c','d','e'])","as":"q"},{"flatten":["q"]},
{"calculate":"cam[datum.q]","as":"m"},
{"calculate":"!datum.k?[0,1,2,3]:(datum.k=='z'?[0,1,2]:[0])","as":"c"},{"flatten":["c"]},
{"calculate":"datum.k?0:(datum.m.g?indexof(datum.m.g,datum.x):(datum.x-1)/datum.m.sx)","as":"I"},
{"calculate":"datum.k?0:(datum.m.g?indexof(datum.m.g,datum.y):(datum.y-1)/datum.m.sy)","as":"J"},
{"calculate":"(datum.k||'s')+datum.q+(datum.I-(datum.c==1||datum.c==2?1:0))+'_'+(datum.J-(datum.c>=2?1:0))","as":"cell"},
{"calculate":"datum.c==0?datum.w:null","as":"w0"},{"calculate":"datum.c==1?datum.w:null","as":"w1"},{"calculate":"datum.c==2?datum.w:null","as":"w2"},{"calculate":"datum.c==3?datum.w:null","as":"w3"},
{"joinaggregate":[{"op":"count","as":"n"},{"op":"mean","field":"w0","as":"W0"},{"op":"mean","field":"w1","as":"W1"},{"op":"mean","field":"w2","as":"W2"},{"op":"mean","field":"w3","as":"W3"},{"op":"min","field":"x","as":"xl"},{"op":"max","field":"x","as":"xh"},{"op":"min","field":"y","as":"yl"},{"op":"max","field":"y","as":"yh"}],"groupby":["cell"]},
{"filter":"datum.k||(datum.n==4&&datum.c==2)"},
{"calculate":"datum.k?[0]:[8,7,6,5,4,3,2,1,0]","as":"e0"},{"flatten":["e0"]},
{"calculate":"datum.k?[0]:[0,1,2,3]","as":"e"},{"flatten":["e"]},
{"calculate":"clamp((floor(datum.e0/3)+(datum.e==1||datum.e==2?1.25:-0.25))/3,0,1)","as":"U"},
{"calculate":"clamp((datum.e0%3+(datum.e>=2?1.25:-0.25))/3,0,1)","as":"V"},
{"calculate":"(floor(datum.e0/3)+0.5)/3","as":"Uc"},{"calculate":"(datum.e0%3+0.5)/3","as":"Vc"},
{"calculate":"datum.k?null:(1-datum.Uc)*(1-datum.Vc)*datum.W0+datum.Uc*(1-datum.Vc)*datum.W1+datum.Uc*datum.Vc*datum.W2+(1-datum.Uc)*datum.Vc*datum.W3","as":"f"},
{"calculate":"datum.k?datum.w:(1-datum.U)*(1-datum.V)*datum.W0+datum.U*(1-datum.V)*datum.W1+datum.U*datum.V*datum.W2+(1-datum.U)*datum.V*datum.W3","as":"wv"},
{"calculate":"datum.k?datum.x:datum.xl+(datum.xh-datum.xl)*datum.U","as":"xv"},
{"calculate":"datum.k?datum.y:datum.yl+(datum.yh-datum.yl)*datum.V","as":"yv"},
{"calculate":"datum.cell+'/'+datum.e0","as":"pk"},
{"calculate":"datum.k=='z'?(datum.c==0?'a':'g'):datum.k","as":"o"},
{"calculate":"((datum.k=='z'?1:datum.xv)-1)/16+(datum.k=='z'&&datum.c==2?1:0)","as":"u"},
{"calculate":"((datum.k=='z'?17:datum.yv)-1)/16","as":"v"},
{"calculate":"((datum.k=='z'?[1,17,17][datum.c]:datum.x2)-1)/16","as":"u2"},
{"calculate":"((datum.k=='z'?[17.6,17,1][datum.c]:datum.y2)-1)/16","as":"v2"},
{"calculate":"isValid(datum.wv)?(datum.wv-datum.m.z[0])/(datum.m.z[1]-datum.m.z[0]):datum.t","as":"h"},
{"calculate":"datum.k=='z'||datum.k=='m'?datum.h:datum.t2","as":"h2"},
{"calculate":"(1-datum.u)*(1-datum.v)","as":"A"},{"calculate":"datum.u*(1-datum.v)","as":"B"},{"calculate":"(1-datum.u)*datum.v","as":"C"},{"calculate":"datum.u*datum.v","as":"D"},
{"calculate":"(1-datum.u2)*(1-datum.v2)","as":"A2"},{"calculate":"datum.u2*(1-datum.v2)","as":"B2"},{"calculate":"(1-datum.u2)*datum.v2","as":"C2"},{"calculate":"datum.u2*datum.v2","as":"D2"},
{"calculate":"datum.k=='cap'?datum.m.cap[0]:(1-datum.h)*(datum.A*datum.m.X[0]+datum.B*datum.m.X[1]+datum.C*datum.m.X[2]+datum.D*datum.m.X[3])+datum.h*(datum.A*datum.m.X[4]+datum.B*datum.m.X[5]+datum.C*datum.m.X[6]+datum.D*datum.m.X[7])","as":"px"},
{"calculate":"datum.k=='cap'?datum.m.cap[1]:(1-datum.h)*(datum.A*datum.m.Y[0]+datum.B*datum.m.Y[1]+datum.C*datum.m.Y[2]+datum.D*datum.m.Y[3])+datum.h*(datum.A*datum.m.Y[4]+datum.B*datum.m.Y[5]+datum.C*datum.m.Y[6]+datum.D*datum.m.Y[7])","as":"py"},
{"calculate":"(1-datum.h2)*(datum.A2*datum.m.X[0]+datum.B2*datum.m.X[1]+datum.C2*datum.m.X[2]+datum.D2*datum.m.X[3])+datum.h2*(datum.A2*datum.m.X[4]+datum.B2*datum.m.X[5]+datum.C2*datum.m.X[6]+datum.D2*datum.m.X[7])","as":"px2"},
{"calculate":"(1-datum.h2)*(datum.A2*datum.m.Y[0]+datum.B2*datum.m.Y[1]+datum.C2*datum.m.Y[2]+datum.D2*datum.m.Y[3])+datum.h2*(datum.A2*datum.m.Y[4]+datum.B2*datum.m.Y[5]+datum.C2*datum.m.Y[6]+datum.D2*datum.m.Y[7])","as":"py2"}
],
"encoding":{"x":{"field":"px","type":"quantitative","scale":{"domain":[0,628],"nice":false,"zero":false},"axis":null},"y":{"field":"py","type":"quantitative","scale":{"domain":[768,0],"nice":false,"zero":false},"axis":null}},
"resolve":{"scale":{"color":"independent"}},
"layer":[
{"transform":[{"filter":"indexof(['g','b','a'],datum.o)>=0"}],"mark":{"type":"rule","stroke":"#000","strokeWidth":0.7},"encoding":{"x2":{"field":"px2"},"y2":{"field":"py2"},"opacity":{"field":"o","type":"ordinal","legend":null,"scale":{"domain":["g","b","a","m"],"range":[0.07,0.3,0.7,0.08]}}}},
{"transform":[{"filter":"datum.q=='a'&&!datum.k"}],"mark":{"type":"line","filled":true},"encoding":{"color":{"field":"f","type":"quantitative","scale":{"domain":[0.9,0.912,0.928,0.936,0.948,0.958,0.972,0.988,1,1.018,1.036,1.07,1.086,1.1],"range":["#4a0c78","#7000b0","#1800f0","#0000ff","#00a0ff","#00ffe0","#00ff00","#b0f000","#ffff00","#ff9000","#ff0000","#e80000","#a00000","#500000"]},"legend":{"type":"gradient","orient":"none","legendX":272,"legendY":37,"title":null,"gradientLength":126,"gradientThickness":12,"values":[0.9,0.92,0.94,0.96,0.98,1,1.02,1.04,1.06,1.08,1.1],"labelExpr":"datum.value>=1||datum.value==0?format(datum.value,'.3f'):format(datum.value,'.4f')","labelFont":"Liberation Serif","labelFontSize":4.8,"labelColor":"#444","labelOverlap":false,"labelOffset":4,"gradientStrokeColor":"#999","gradientStrokeWidth":0.5}},"detail":{"field":"pk"},"order":{"field":"e"}}},
{"transform":[{"filter":"datum.q=='b'&&!datum.k"}],"mark":{"type":"line","filled":true},"encoding":{"color":{"field":"f","type":"quantitative","legend":null,"scale":{"domain":[0,0.06,0.14,0.18,0.24,0.29,0.36,0.44,0.5,0.59,0.68,0.85,0.93,1],"range":["#4a0c78","#7000b0","#1800f0","#0000ff","#00a0ff","#00ffe0","#00ff00","#b0f000","#ffff00","#ff9000","#ff0000","#e80000","#a00000","#500000"]}},"detail":{"field":"pk"},"order":{"field":"e"}}},
{"transform":[{"filter":"datum.q=='b'&&!datum.k"}],"mark":{"type":"line","filled":true},"encoding":{"color":{"field":"f","type":"quantitative","scale":{"domain":[0,0.06,0.14,0.18,0.24,0.29,0.36,0.44,0.5,0.59,0.68,0.85,0.93,1],"range":["#4a0c78","#7000b0","#1800f0","#0000ff","#00a0ff","#00ffe0","#00ff00","#b0f000","#ffff00","#ff9000","#ff0000","#e80000","#a00000","#500000"]},"legend":{"type":"gradient","orient":"none","legendX":593,"legendY":41,"title":null,"gradientLength":126,"gradientThickness":12,"values":[0,0.1,0.2,0.3,0.4,0.5,0.6,0.7,0.8,0.9,1],"labelExpr":"datum.value>=1||datum.value==0?format(datum.value,'.3f'):format(datum.value,'.4f')","labelFont":"Liberation Serif","labelFontSize":4.8,"labelColor":"#444","labelOverlap":false,"labelOffset":4,"gradientStrokeColor":"#999","gradientStrokeWidth":0.5}},"detail":{"field":"pk"},"order":{"field":"e"}}},
{"transform":[{"filter":"datum.q=='c'&&!datum.k"}],"mark":{"type":"line","filled":true},"encoding":{"color":{"field":"f","type":"quantitative","scale":{"domain":[0,0.06,0.14,0.18,0.24,0.29,0.36,0.44,0.5,0.59,0.68,0.85,0.93,1],"range":["#4a0c78","#7000b0","#1800f0","#0000ff","#00a0ff","#00ffe0","#00ff00","#b0f000","#ffff00","#ff9000","#ff0000","#e80000","#a00000","#500000"]},"legend":{"type":"gradient","orient":"none","legendX":272,"legendY":320,"title":null,"gradientLength":123,"gradientThickness":12,"values":[0,0.1,0.2,0.3,0.4,0.5,0.6,0.7,0.8,0.9,1],"labelExpr":"datum.value>=1||datum.value==0?format(datum.value,'.3f'):format(datum.value,'.4f')","labelFont":"Liberation Serif","labelFontSize":4.8,"labelColor":"#444","labelOverlap":false,"labelOffset":4,"gradientStrokeColor":"#999","gradientStrokeWidth":0.5}},"detail":{"field":"pk"},"order":{"field":"e"}}},
{"transform":[{"filter":"datum.q=='d'&&!datum.k"}],"mark":{"type":"line","filled":true},"encoding":{"color":{"field":"f","type":"quantitative","scale":{"domain":[0.707,0.7246,0.748,0.7597,0.7773,0.792,0.8125,0.8359,0.8535,0.8799,0.9062,0.956,0.9795,1],"range":["#4a0c78","#7000b0","#1800f0","#0000ff","#00a0ff","#00ffe0","#00ff00","#b0f000","#ffff00","#ff9000","#ff0000","#e80000","#a00000","#500000"]},"legend":{"type":"gradient","orient":"none","legendX":591,"legendY":313,"title":null,"gradientLength":127,"gradientThickness":12,"values":[0.707,0.7363,0.7656,0.7949,0.8242,0.8535,0.8828,0.9121,0.9414,0.9707,1],"labelExpr":"datum.value>=1||datum.value==0?format(datum.value,'.3f'):format(datum.value,'.4f')","labelFont":"Liberation Serif","labelFontSize":4.8,"labelColor":"#444","labelOverlap":false,"labelOffset":4,"gradientStrokeColor":"#999","gradientStrokeWidth":0.5}},"detail":{"field":"pk"},"order":{"field":"e"}}},
{"transform":[{"filter":"datum.q=='e'&&!datum.k"}],"mark":{"type":"line","filled":true},"encoding":{"color":{"field":"f","type":"quantitative","scale":{"domain":[0,0.06,0.14,0.18,0.24,0.29,0.36,0.44,0.5,0.59,0.68,0.85,0.93,1],"range":["#4a0c78","#7000b0","#1800f0","#0000ff","#00a0ff","#00ffe0","#00ff00","#b0f000","#ffff00","#ff9000","#ff0000","#e80000","#a00000","#500000"]},"legend":{"type":"gradient","orient":"none","legendX":302,"legendY":566,"title":null,"gradientLength":120,"gradientThickness":12,"values":[0,0.1,0.2,0.3,0.4,0.5,0.6,0.7,0.8,0.9,1],"labelExpr":"datum.value>=1||datum.value==0?format(datum.value,'.3f'):format(datum.value,'.4f')","labelFont":"Liberation Serif","labelFontSize":4.8,"labelColor":"#444","labelOverlap":false,"labelOffset":4,"gradientStrokeColor":"#999","gradientStrokeWidth":0.5}},"detail":{"field":"pk"},"order":{"field":"e"}}},
{"transform":[{"filter":"datum.o=='m'"}],"mark":{"type":"rule","stroke":"#000","strokeWidth":0.5},"encoding":{"x2":{"field":"px2"},"y2":{"field":"py2"},"opacity":{"field":"o","type":"ordinal","legend":null,"scale":{"domain":["g","b","a","m"],"range":[0.07,0.3,0.7,0.08]}}}},
{"transform":[{"filter":"datum.k=='l'"}],"mark":{"type":"text","font":"Liberation Serif","fontSize":8.5,"fill":"#444","align":"center","baseline":"middle"},"encoding":{"text":{"field":"s"}}},
{"transform":[{"filter":"datum.k=='z'&&datum.c==0"}],"mark":{"type":"text","font":"Liberation Serif","fontSize":10,"fill":"#444","align":"right","baseline":"middle","dx":-1},"encoding":{"x":{"field":"px2","type":"quantitative"},"y":{"field":"py2","type":"quantitative"},"text":{"field":"s"}}},
{"transform":[{"filter":"datum.k=='cap'"}],"mark":{"type":"text","font":"Liberation Serif","fontSize":23.5,"fill":"#000","align":"center","baseline":"middle"},"encoding":{"text":{"field":"s"}}}
]}
